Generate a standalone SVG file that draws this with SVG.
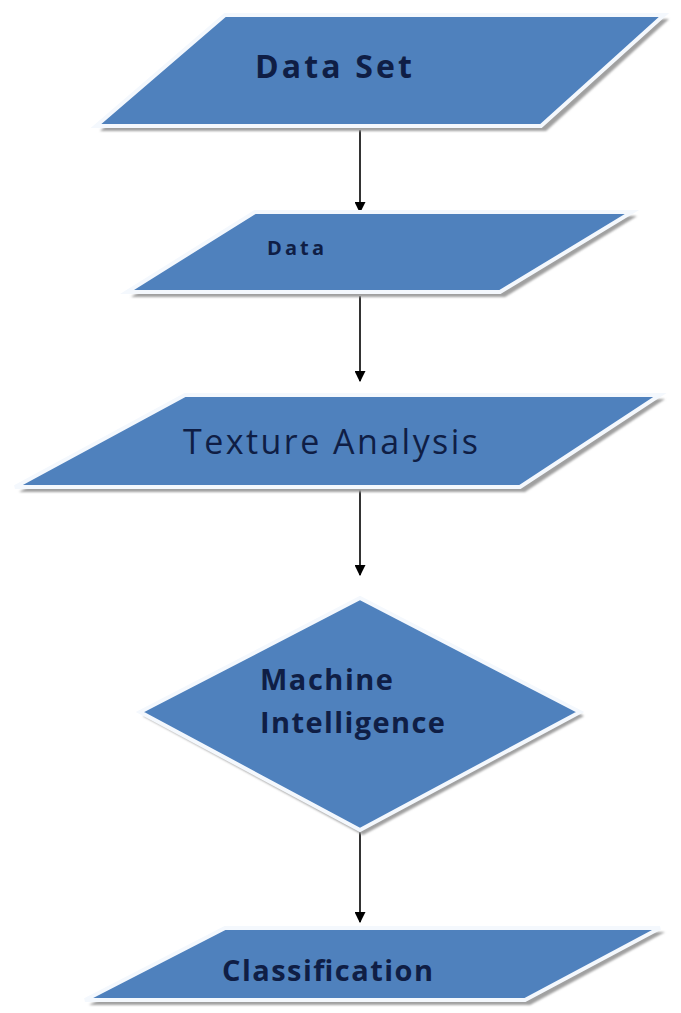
<svg xmlns="http://www.w3.org/2000/svg" width="681" height="1013" viewBox="0 0 681 1013">
  <style>
    .shape { fill: #4F81BD; stroke: #f4f8fd; stroke-width: 4; stroke-linejoin: miter; }
    .shadow { fill: #a0a0a0; filter: url(#soft); }
    .label { font-family: "Open Sans", Lato, "Liberation Sans", sans-serif; fill: #0f1e45; }
    .bold { font-weight: bold; }
    .link { stroke: #000000; stroke-width: 1.6; fill: none; marker-end: url(#arrow); }
  </style>
  <defs>
    <marker id="arrow" viewBox="0 0 10 10" refX="9" refY="5" markerWidth="11" markerHeight="11" markerUnits="userSpaceOnUse" orient="auto">
      <path d="M0,0 L10,5 L0,10 z" fill="#000000"/>
    </marker>
    <filter id="soft" x="-5%" y="-5%" width="110%" height="110%">
      <feGaussianBlur stdDeviation="0.8"/>
    </filter>
  </defs>
  <rect width="681" height="1013" fill="#ffffff"/>

  <g id="connectors">
    <line class="link" x1="360" y1="130" x2="360" y2="212"/>
    <line class="link" x1="360" y1="296" x2="360" y2="381"/>
    <line class="link" x1="360" y1="490" x2="360" y2="575"/>
    <line class="link" x1="360" y1="820" x2="360" y2="922"/>
  </g>

  <g id="node-data-set">
    <polygon class="shadow" points="229,19 669,19 546,131 100,131"/>
    <polygon class="shape" points="225,15 664,15 541,126 96,126"/>
    <text class="label bold" x="255" y="78" font-size="32" textLength="157" lengthAdjust="spacing">Data Set</text>
  </g>

  <g id="node-data">
    <polygon class="shadow" points="259,216 637,216 505,297 131,297"/>
    <polygon class="shape" points="255,212 632,212 500,292 127,292"/>
    <text class="label bold" x="267" y="255" font-size="20" textLength="57" lengthAdjust="spacing">Data</text>
  </g>

  <g id="node-texture-analysis">
    <polygon class="shadow" points="189,399 665,399 525,492 19,492"/>
    <polygon class="shape" points="185,395 660,395 520,487 15,487"/>
    <text class="label" x="183" y="454" font-size="34" textLength="295" lengthAdjust="spacing">Texture Analysis</text>
  </g>

  <g id="node-machine-intelligence">
    <polygon class="shadow" points="363,602 584,716 363,835 143,716"/>
    <polygon class="shape" points="360,598 580,712 360,830 140,712"/>
    <text class="label bold" x="260" y="690" font-size="29" textLength="133" lengthAdjust="spacing">Machine</text>
    <text class="label bold" x="260" y="733" font-size="29" textLength="185" lengthAdjust="spacing">Intelligence</text>
  </g>

  <g id="node-classification">
    <polygon class="shadow" points="229,932 665,932 530,1005 89,1005"/>
    <polygon class="shape" points="225,928 660,928 525,1000 85,1000"/>
    <text class="label bold" x="222" y="981" font-size="29" textLength="211" lengthAdjust="spacing">Classification</text>
  </g>
</svg>
